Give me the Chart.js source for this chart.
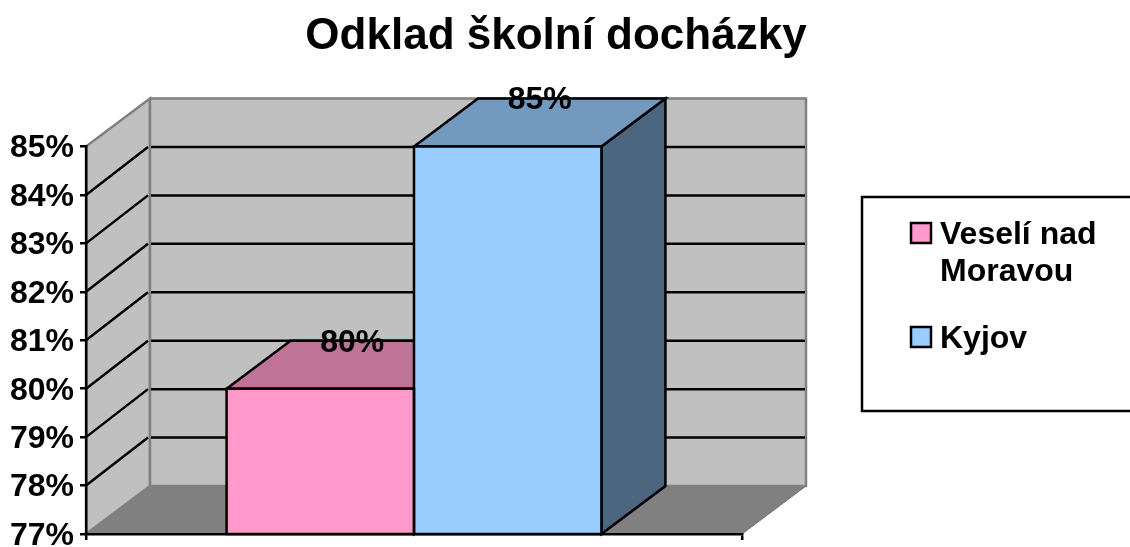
<!DOCTYPE html>
<html>
<head>
<meta charset="utf-8">
<title>Odklad školní docházky</title>
<style>
  html, body { margin: 0; background: #fff; overflow: hidden; }
  canvas { display: block; }
</style>
<script src="https://cdn.jsdelivr.net/npm/chart.js@4/dist/chart.umd.min.js"></script>
</head>
<body>
<canvas id="graf" width="1130" height="547"></canvas>
<script>
const chartTitle = 'Odklad školní docházky';
const categories = [''];
const seriesNames = ['Veselí nad Moravou', 'Kyjov'];
const legendLines = [['Veselí nad', 'Moravou'], ['Kyjov']];
const valuesVeseli = [80];
const valuesKyjov = [85];
const axisMin = 77;
const axisMax = 85;

const font = 'bold 32px "Liberation Sans", Arial, sans-serif';
const depthX = 64; // posun zadni steny
const depthY = 48;
const lineW = 2.5;
const frontColors = ['#ff99cc', '#99ccff'];
const topColors = ['#bf7399', '#7399bf'];
const sideColors = ['#804d66', '#4d6680'];

function poly(ctx, points, fill, stroke, width) {
  ctx.beginPath();
  points.forEach((p, i) => i ? ctx.lineTo(p[0], p[1]) : ctx.moveTo(p[0], p[1]));
  ctx.closePath();
  if (fill) { ctx.fillStyle = fill; ctx.fill(); }
  if (stroke) { ctx.strokeStyle = stroke; ctx.lineWidth = width; ctx.stroke(); }
}

const walls = {
  id: 'walls',
  beforeDraw(chart) {
    const ctx = chart.ctx;
    const { left, right, top, bottom } = chart.chartArea;
    ctx.save();
    // podlaha a steny
    poly(ctx, [[left, bottom], [left + depthX, bottom - depthY], [right + depthX, bottom - depthY], [right, bottom]], '#808080', '#707070', 1);
    poly(ctx, [[left, top], [left + depthX, top - depthY], [left + depthX, bottom - depthY], [left, bottom]], '#c0c0c0', '#808080', lineW);
    poly(ctx, [[left + depthX, top - depthY], [right + depthX, top - depthY], [right + depthX, bottom - depthY], [left + depthX, bottom - depthY]], '#c0c0c0', '#808080', lineW);
    // mrizka
    ctx.strokeStyle = '#000';
    ctx.lineWidth = lineW;
    chart.scales.y.ticks.forEach(t => {
      if (t.value === axisMin || t.value === axisMax) return;
      const y = chart.scales.y.getPixelForValue(t.value);
      ctx.beginPath();
      ctx.moveTo(left, y);
      ctx.lineTo(left + depthX - 2, y - depthY);
      ctx.moveTo(left + depthX + 1, y - depthY);
      ctx.lineTo(right + depthX - 1, y - depthY);
      ctx.stroke();
    });
    ctx.restore();
  },
  beforeDatasetsDraw(chart) {
    const ctx = chart.ctx;
    const bottom = chart.chartArea.bottom;
    ctx.save();
    ctx.lineJoin = 'miter';
    chart.data.datasets.forEach((ds, i) => {
      const bar = chart.getDatasetMeta(i).data[0];
      const l = bar.x - bar.width / 2;
      const r = bar.x + bar.width / 2;
      poly(ctx, [[r, bar.y], [r + depthX, bar.y - depthY], [r + depthX, bottom - depthY], [r, bottom]], sideColors[i], '#000', lineW);
      poly(ctx, [[l, bar.y], [l + depthX, bar.y - depthY], [r + depthX, bar.y - depthY], [r, bar.y]], topColors[i], '#000', lineW);
    });
    ctx.restore();
  },
  afterDatasetsDraw(chart) {
    const ctx = chart.ctx;
    const bottom = chart.chartArea.bottom;
    ctx.save();
    ctx.strokeStyle = '#000';
    ctx.lineWidth = lineW;
    chart.data.datasets.forEach((ds, i) => {
      const bar = chart.getDatasetMeta(i).data[0];
      ctx.strokeRect(bar.x - bar.width / 2, bar.y, bar.width, bottom - bar.y);
    });
    ctx.fillStyle = '#000';
    ctx.font = font;
    ctx.textAlign = 'center';
    ctx.textBaseline = 'middle';
    chart.data.datasets.forEach((ds, i) => {
      const bar = chart.getDatasetMeta(i).data[0];
      ctx.fillText(ds.data[0] + '%', bar.x + depthX / 2, bar.y - depthY + 2);
    });
    ctx.restore();
  },
  afterDraw(chart) {
    const ctx = chart.ctx;
    ctx.save();
    ctx.fillStyle = '#000';
    ctx.textAlign = 'center';
    ctx.textBaseline = 'alphabetic';
    ctx.font = 'bold 44px "Liberation Sans", Arial, sans-serif';
    ctx.fillText(chartTitle, 556, 49);

    // legenda
    ctx.strokeStyle = '#000';
    ctx.lineWidth = lineW;
    ctx.strokeRect(862, 197, 300, 214);
    ctx.textAlign = 'left';
    ctx.font = font;
    let y = 233;
    legendLines.forEach((lines, i) => {
      ctx.fillStyle = frontColors[i];
      ctx.fillRect(911, y - 10, 20, 20);
      ctx.strokeRect(911, y - 10, 20, 20);
      ctx.fillStyle = '#000';
      lines.forEach((line, k) => ctx.fillText(line, 940, y + 11 + k * 36.5));
      y += 104;
    });
    ctx.restore();
  }
};

new Chart(document.getElementById('graf'), {
  type: 'bar',
  data: {
    labels: categories,
    datasets: [
      { label: seriesNames[0], data: valuesVeseli, backgroundColor: frontColors[0] },
      { label: seriesNames[1], data: valuesKyjov, backgroundColor: frontColors[1] }
    ]
  },
  options: {
    responsive: false,
    animation: false,
    layout: {
      autoPadding: false,
      padding: { top: 146.5, right: 388, left: 0, bottom: 0 }
    },
    datasets: {
      bar: {
        categoryPercentage: 2 / 3.5,
        barPercentage: 1,
        borderWidth: 0
      }
    },
    plugins: {
      legend: { display: false },
      title: { display: false },
      tooltip: { enabled: false }
    },
    scales: {
      x: {
        afterFit: scale => { scale.height = 13; },
        border: { color: '#000', width: lineW },
        grid: { offset: true, drawOnChartArea: false, color: '#000', lineWidth: lineW, tickLength: 6 },
        ticks: { display: false }
      },
      y: {
        min: axisMin,
        max: axisMax,
        afterFit: scale => {
          scale.width = 86;
          scale.paddingTop = 0;
          scale.paddingBottom = 0;
        },
        border: { color: '#000', width: lineW },
        grid: { drawOnChartArea: false, color: '#000', lineWidth: lineW, tickLength: 6 },
        ticks: {
          stepSize: 1,
          padding: 6,
          labelOffset: 2,
          color: '#000',
          font: { family: '"Liberation Sans", Arial, sans-serif', size: 32, weight: 'bold' },
          callback: v => v + '%'
        }
      }
    }
  },
  plugins: [walls]
});
</script>
</body>
</html>
